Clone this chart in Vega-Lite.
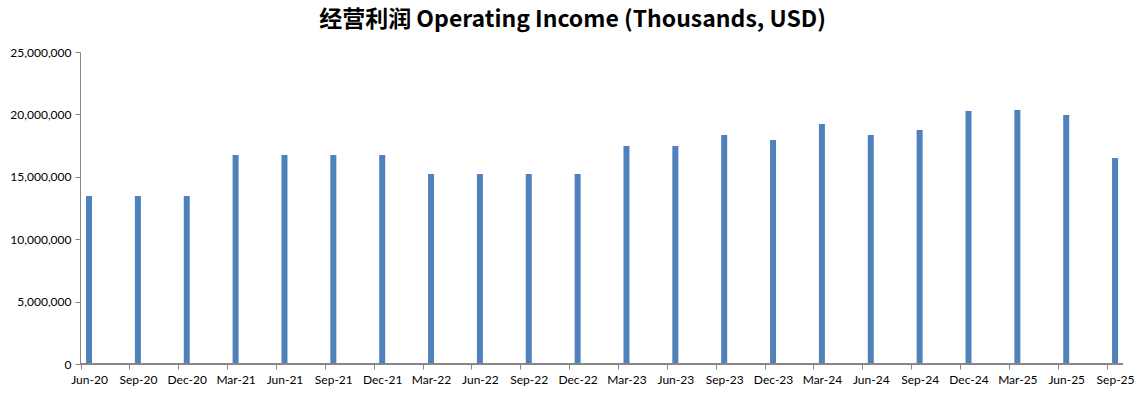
{
  "$schema": "https://vega.github.io/schema/vega-lite/v6.json",
  "autosize": {"type": "none"},
  "padding": {"left": 80, "top": 52, "right": 22, "bottom": 35},
  "width": 1043,
  "height": 312,
  "background": "#ffffff",
  "title": {
    "text": "经营利润 Operating Income (Thousands, USD)",
    "font": "Noto Sans CJK SC",
    "fontSize": 23,
    "fontWeight": "bold",
    "color": "#000000",
    "anchor": "middle",
    "dx": -29,
    "offset": 14
  },
  "config": {
    "view": {"stroke": null},
    "axis": {"labelFont": "Lato", "labelFontSize": 12, "labelColor": "#000000", "grid": false, "domainColor": "#868686", "tickColor": "#868686"}
  },
  "data": {
    "values": [
      {"quarter": "Jun-20", "income": 13460000},
      {"quarter": "Sep-20", "income": 13460000},
      {"quarter": "Dec-20", "income": 13460000},
      {"quarter": "Mar-21", "income": 16750000},
      {"quarter": "Jun-21", "income": 16750000},
      {"quarter": "Sep-21", "income": 16750000},
      {"quarter": "Dec-21", "income": 16750000},
      {"quarter": "Mar-22", "income": 15220000},
      {"quarter": "Jun-22", "income": 15220000},
      {"quarter": "Sep-22", "income": 15220000},
      {"quarter": "Dec-22", "income": 15220000},
      {"quarter": "Mar-23", "income": 17470000},
      {"quarter": "Jun-23", "income": 17470000},
      {"quarter": "Sep-23", "income": 18350000},
      {"quarter": "Dec-23", "income": 17950000},
      {"quarter": "Mar-24", "income": 19230000},
      {"quarter": "Jun-24", "income": 18350000},
      {"quarter": "Sep-24", "income": 18750000},
      {"quarter": "Dec-24", "income": 20270000},
      {"quarter": "Mar-25", "income": 20350000},
      {"quarter": "Jun-25", "income": 19950000},
      {"quarter": "Sep-25", "income": 16500000}
    ]
  },
  "layer": [
    {
      "mark": {"type": "bar", "color": "#4F81BD", "width": 6},
      "encoding": {
        "x": {
          "field": "quarter",
          "type": "nominal",
          "sort": null,
          "scale": {"range": [-15.4, 1059.5], "paddingInner": 0, "paddingOuter": 0},
          "axis": {"title": null, "labelAngle": 0, "domain": false, "ticks": true, "tickSize": 5, "tickOffset": -8.5, "labelOffset": 8.5, "labelPadding": 5}
        },
        "y": {
          "field": "income",
          "type": "quantitative",
          "scale": {"domain": [0, 25000000], "nice": false},
          "axis": {"title": null, "values": [0, 5000000, 10000000, 15000000, 20000000, 25000000], "format": ",.0f", "tickSize": 5, "labelPadding": 4}
        }
      }
    },
    {
      "mark": {"type": "rule", "color": "#868686"},
      "encoding": {"y": {"datum": 0}}
    }
  ]
}
